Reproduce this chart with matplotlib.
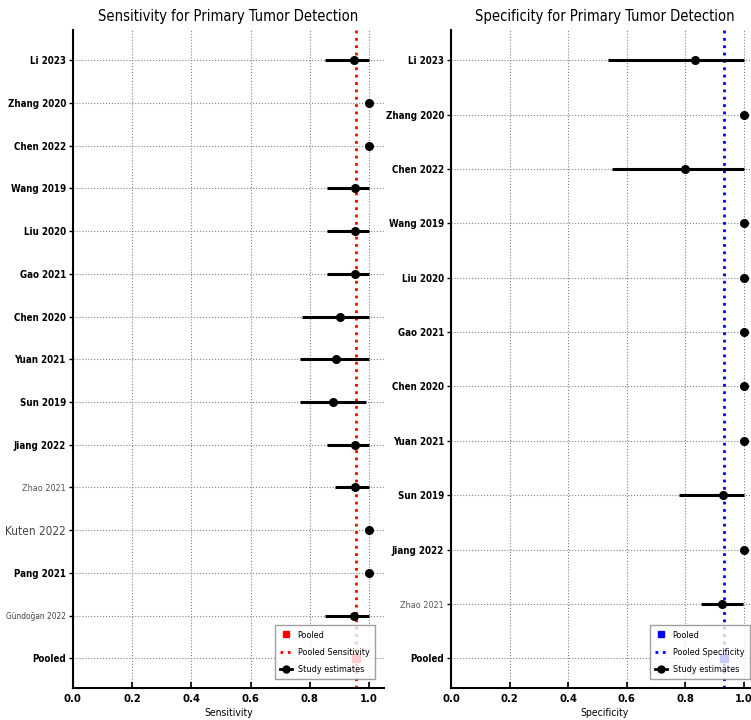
import matplotlib
matplotlib.use("Agg")
import matplotlib.pyplot as plt
from matplotlib.lines import Line2D
import numpy as np

plt.rcParams['font.family'] = ['DejaVu Sans']
plt.rcParams['font.stretch'] = 'condensed'

# Sensitivity data
sens_studies = ['Li 2023', 'Zhang 2020', 'Chen 2022', 'Wang 2019', 'Liu 2020', 'Gao 2021',
                'Chen 2020', 'Yuan 2021', 'Sun 2019', 'Jiang 2022', 'Zhao 2021',
                'Kuten 2022', 'Pang 2021', 'Gündoğan 2022']
sens_est = [0.95, 1.0, 1.0, 0.953, 0.953, 0.953, 0.902, 0.888, 0.878, 0.953, 0.953, 1.0, 1.0, 0.95]
sens_low = [0.85, 1.0, 1.0, 0.858, 0.858, 0.858, 0.774, 0.767, 0.767, 0.858, 0.885, 1.0, 1.0, 0.85]
sens_high = [1.0, 1.0, 1.0, 1.0, 1.0, 1.0, 1.0, 1.0, 0.99, 1.0, 1.0, 1.0, 1.0, 1.0]
pooled_sens = 0.955

# Specificity data
spec_studies = ['Li 2023', 'Zhang 2020', 'Chen 2022', 'Wang 2019', 'Liu 2020', 'Gao 2021',
                'Chen 2020', 'Yuan 2021', 'Sun 2019', 'Jiang 2022', 'Zhao 2021']
spec_est = [0.833, 1.0, 0.80, 1.0, 1.0, 1.0, 1.0, 1.0, 0.927, 1.0, 0.925]
spec_low = [0.536, 1.0, 0.55, 1.0, 1.0, 1.0, 1.0, 1.0, 0.778, 1.0, 0.853]
spec_high = [1.0, 1.0, 1.0, 1.0, 1.0, 1.0, 1.0, 1.0, 1.0, 1.0, 0.997]
pooled_spec = 0.932

x_ticks = [0.0, 0.2, 0.4, 0.6, 0.8, 1.0]

# odd-looking labels in the original picture
label_style = {
    'Zhao 2021': dict(fontweight='normal', color='#555555', fontsize=6.5),
    'Kuten 2022': dict(fontweight='normal', color='#444444', fontsize=8.5),
    'Gündoğan 2022': dict(fontweight='normal', color='#444444', fontsize=6),
}


def forest(ax, studies, est, low, high, pooled, color, title, xlabel, line_label):
    labels = studies + ['Pooled']
    y = np.arange(len(labels))[::-1]
    est = np.array(est)
    xerr = [est - np.array(low), np.array(high) - est]

    ax.plot(pooled, y[-1], 's', color=color, markersize=6, zorder=2)
    ax.axvline(pooled, color=color, linestyle=':', linewidth=2, zorder=2)
    ax.errorbar(est, y[:-1], xerr=xerr, fmt='o', color='black', ecolor='black',
                elinewidth=2.2, markersize=5.5, zorder=3)

    ax.set_xlim(0, 1.05)
    ax.set_xticks(x_ticks)
    ax.set_xticklabels([f'{t:.1f}' for t in x_ticks], fontsize=8, fontweight='bold')
    ax.set_yticks(y)
    ax.set_yticklabels(labels, fontsize=7, fontweight='bold')
    for t in ax.get_yticklabels():
        if t.get_text() in label_style:
            t.set(**label_style[t.get_text()])

    ax.set_title(title, fontsize=10.5, pad=7)
    ax.set_xlabel(xlabel, fontsize=7.5, labelpad=3)
    ax.grid(True, linestyle=':', color='gray', linewidth=0.8)
    ax.set_axisbelow(True)
    for s in ['top', 'right']:
        ax.spines[s].set_visible(False)
    for s in ['left', 'bottom']:
        ax.spines[s].set_linewidth(1.5)
    ax.tick_params(axis='x', direction='in', length=4, width=1.2, pad=4)
    ax.tick_params(axis='y', direction='out', length=3, width=1, pad=2)

    handles = [
        Line2D([], [], marker='s', color=color, linestyle='None', markersize=5),
        Line2D([], [], color=color, linestyle=':', linewidth=2),
        Line2D([], [], marker='o', color='black', linestyle='-', linewidth=2, markersize=5),
    ]
    ax.legend(handles, ['Pooled', line_label, 'Study estimates'], loc='lower right',
              fontsize=6.5, fancybox=False, edgecolor='#888888', handlelength=1.3,
              labelspacing=0.9, borderpad=0.6, handletextpad=0.6, borderaxespad=1.0)


fig = plt.figure(figsize=(7.51, 7.2), dpi=100)
ax1 = fig.add_axes([0.097, 0.044, 0.414, 0.914])
ax2 = fig.add_axes([0.6005, 0.044, 0.4096, 0.914])

forest(ax1, sens_studies, sens_est, sens_low, sens_high, pooled_sens, 'red',
       'Sensitivity for Primary Tumor Detection', 'Sensitivity', 'Pooled Sensitivity')
forest(ax2, spec_studies, spec_est, spec_low, spec_high, pooled_spec, 'blue',
       'Specificity for Primary Tumor Detection', 'Specificity', 'Pooled Specificity')

fig.savefig('out.png', dpi=100)
